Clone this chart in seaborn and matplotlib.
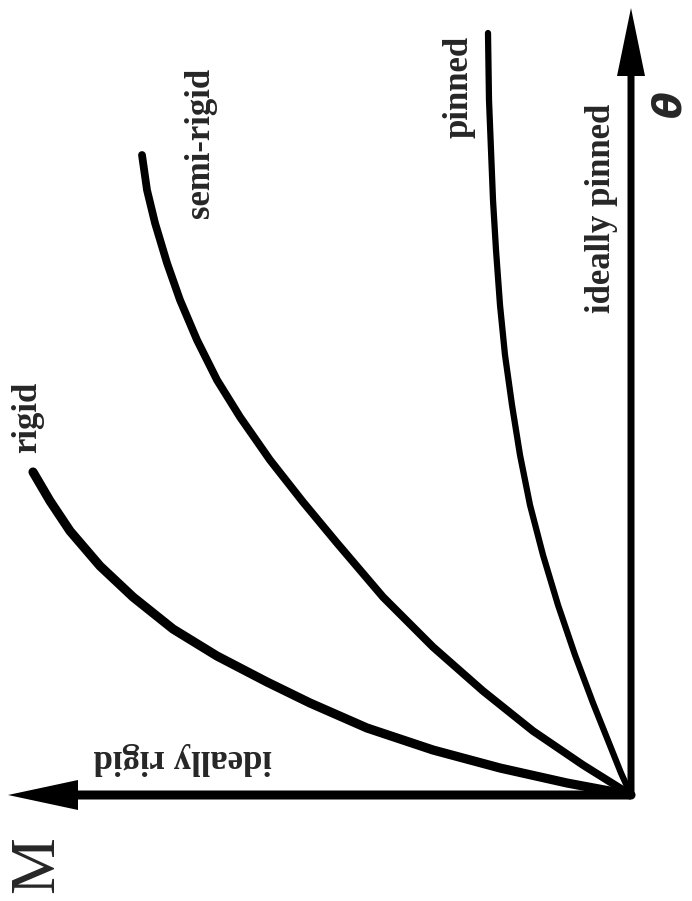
import numpy as np
import pandas as pd
import matplotlib
matplotlib.use("Agg")
import matplotlib.pyplot as plt
import seaborn as sns

# Moment-rotation curves (M = moment, theta = rotation)
rigid_M     = [0, 64, 131, 198, 264, 321, 364, 414, 458, 498, 531, 561, 581, 598]
rigid_theta = [0, 12, 27, 45, 67, 92, 113, 139, 166, 198, 229, 264, 294, 323]

semi_M     = [0, 48, 98, 148, 198, 248, 294, 328, 361, 391, 414, 434, 451, 464, 476, 484, 489]
semi_theta = [0, 30, 64, 104, 148, 198, 252, 293, 335, 378, 415, 455, 495, 532, 572, 605, 640]

pinned_M     = [0, 10, 22, 38, 56, 73, 88, 101, 111, 119, 126, 131, 135, 138, 140, 142, 143]
pinned_theta = [0, 22, 52, 92, 140, 190, 240, 290, 340, 390, 440, 490, 545, 595, 645, 695, 762]

curve_names = ["rigid", "semi-rigid", "pinned"]

df = pd.concat([
    pd.DataFrame({"M": rigid_M, "theta": rigid_theta, "curve": "rigid"}),
    pd.DataFrame({"M": semi_M, "theta": semi_theta, "curve": "semi-rigid"}),
    pd.DataFrame({"M": pinned_M, "theta": pinned_theta, "curve": "pinned"}),
], ignore_index=True)

sns.set_style("white")
plt.rcParams["font.family"] = ["Liberation Serif", "DejaVu Serif"]

fig = plt.figure(figsize=(6.92, 9.01), dpi=100)
ax = fig.add_axes([0, 0, 1, 1])

widths = {"rigid": 6.6, "semi-rigid": 5.6, "pinned": 4.5}
for name in curve_names:
    sub = df[df["curve"] == name]
    sns.lineplot(data=sub, x="M", y="theta", sort=False, estimator=None,
                 color="black", linewidth=widths[name], ax=ax, legend=False,
                 solid_capstyle="round", solid_joinstyle="round")

# axes arrows
ax.arrow(0, 0, 623, 0, width=9, head_width=30, head_length=70,
         length_includes_head=True, color="black", lw=0)
ax.arrow(0, 0, 0, 787, width=7, head_width=28, head_length=68,
         length_includes_head=True, color="black", lw=0)

# labels
fs = 25
ax.text(603, 378, "rigid", rotation=90, ha="center", va="center", fontsize=fs, fontweight="bold")
ax.text(431, 652, "semi-rigid", rotation=90, ha="center", va="center", fontsize=fs, fontweight="bold")
ax.text(172, 708, "pinned", rotation=90, ha="center", va="center", fontsize=fs, fontweight="bold")
ax.text(30, 587, "ideally pinned", rotation=90, ha="center", va="center", fontsize=fs, fontweight="bold")
ax.text(448, 37, "ideally rigid", rotation=180, ha="center", va="center", fontsize=fs, fontweight="bold")
ax.text(-41, 690, r"$\boldsymbol{\theta}$", rotation=90, ha="center", va="center", fontsize=28)
ax.text(593, -70, "M", rotation=90, ha="center", va="center", fontsize=46)

ax.set_xlim(631, 631 - 692)
ax.set_ylim(795 - 901, 795)
ax.set_axis_off()

fig.savefig("out.png", dpi=100, facecolor="white")
